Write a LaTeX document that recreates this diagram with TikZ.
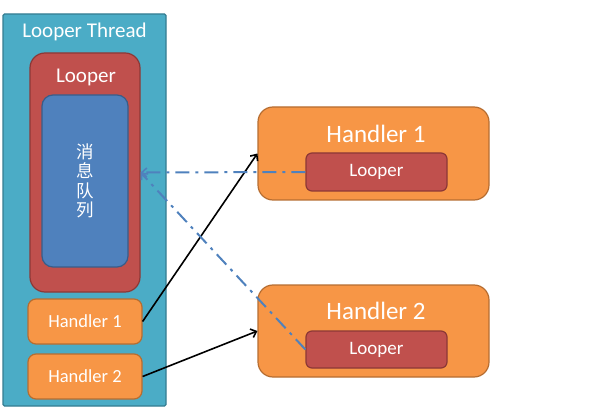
\documentclass[tikz,border=0pt]{standalone}
\usepackage{fontspec}
\setmainfont{Carlito}
\newfontfamily\cjk{Noto Sans CJK SC}
\usetikzlibrary{arrows.meta}
\definecolor{threadfill}{HTML}{4BACC6}
\definecolor{threaddraw}{HTML}{357D91}
\definecolor{loopfill}{HTML}{C0504D}
\definecolor{loopdraw}{HTML}{8C3836}
\definecolor{queuefill}{HTML}{4F81BD}
\definecolor{queuedraw}{HTML}{385D8A}
\definecolor{handfill}{HTML}{F79646}
\definecolor{handdraw}{HTML}{B66D31}
\definecolor{linkblue}{HTML}{4F81BD}
\tikzset{
  box/.style={draw, line width=1.2pt, inner sep=0pt, text=white},
  thread/.style={box, fill=threadfill, draw=threaddraw, rounded corners=1.5pt},
  looperbig/.style={box, fill=loopfill, draw=loopdraw, rounded corners=15pt},
  queue/.style={box, fill=queuefill, draw=queuedraw, rounded corners=11pt},
  handsmall/.style={box, fill=handfill, draw=handdraw, rounded corners=8pt, font=\fontsize{18.5}{20}\selectfont},
  handbig/.style={box, fill=handfill, draw=handdraw, rounded corners=15pt},
  loopsmall/.style={box, fill=loopfill, draw=loopdraw, rounded corners=6pt, font=\fontsize{19}{20}\selectfont},
  caption/.style={inner sep=0pt, text=white},
  call/.style={line width=1.6pt, -{Straight Barb[length=5pt,width=9pt,line width=1.6pt]}},
  ref/.style={line width=2pt, draw=linkblue, dash pattern=on 14pt off 6pt on 3pt off 6pt,
              -{Straight Barb[length=5pt,width=9pt,line width=1.6pt]}}
}
\begin{document}
\begin{tikzpicture}[x=1pt, y=-1pt]
\useasboundingbox (0,0) rectangle (596,419);
% thread column on the left
\node[thread, minimum width=163pt, minimum height=392pt] (thread) at (84.5,210) {};
\node[caption, font=\fontsize{21}{22}\selectfont] (threadtxt) at (84.5,32) {Looper Thread};
\node[looperbig, minimum width=110pt, minimum height=239pt] (looper) at (85,172.5) {};
\node[caption, font=\fontsize{21}{22}\selectfont] (loopertxt) at (86,77) {Looper};
\node[queue, minimum width=86pt, minimum height=172pt, align=center,
      font=\cjk\fontsize{17.5}{19.5}\selectfont] (queue) at (85,181) {消\\息\\队\\列};
\node[handsmall, minimum width=114pt, minimum height=45pt] (lh1) at (85,321.5) {Handler 1};
\node[handsmall, minimum width=114pt, minimum height=45pt] (lh2) at (85,376.5) {Handler 2};
% handler objects on the right
\node[handbig, minimum width=231pt, minimum height=93pt] (rh1) at (373.5,153.5) {};
\node[caption, font=\fontsize{25}{26}\selectfont] (rh1txt) at (376,134) {Handler 1};
\node[loopsmall, minimum width=141pt, minimum height=38pt] (rl1) at (376.5,172) {Looper};
\node[handbig, minimum width=231pt, minimum height=92pt] (rh2) at (373.5,331) {};
\node[caption, font=\fontsize{25}{26}\selectfont] (rh2txt) at (376,311) {Handler 2};
\node[loopsmall, minimum width=141pt, minimum height=37pt] (rl2) at (376.5,349.5) {Looper};
% connectors
\draw[call] (lh1.east) -- (rh1.west);
\draw[call] (lh2.east) -- (rh2.west);
\draw[ref] (rl1.west) -- (looper.east);
\draw[ref] (rl2.west) -- (looper.east);
\end{tikzpicture}
\end{document}
